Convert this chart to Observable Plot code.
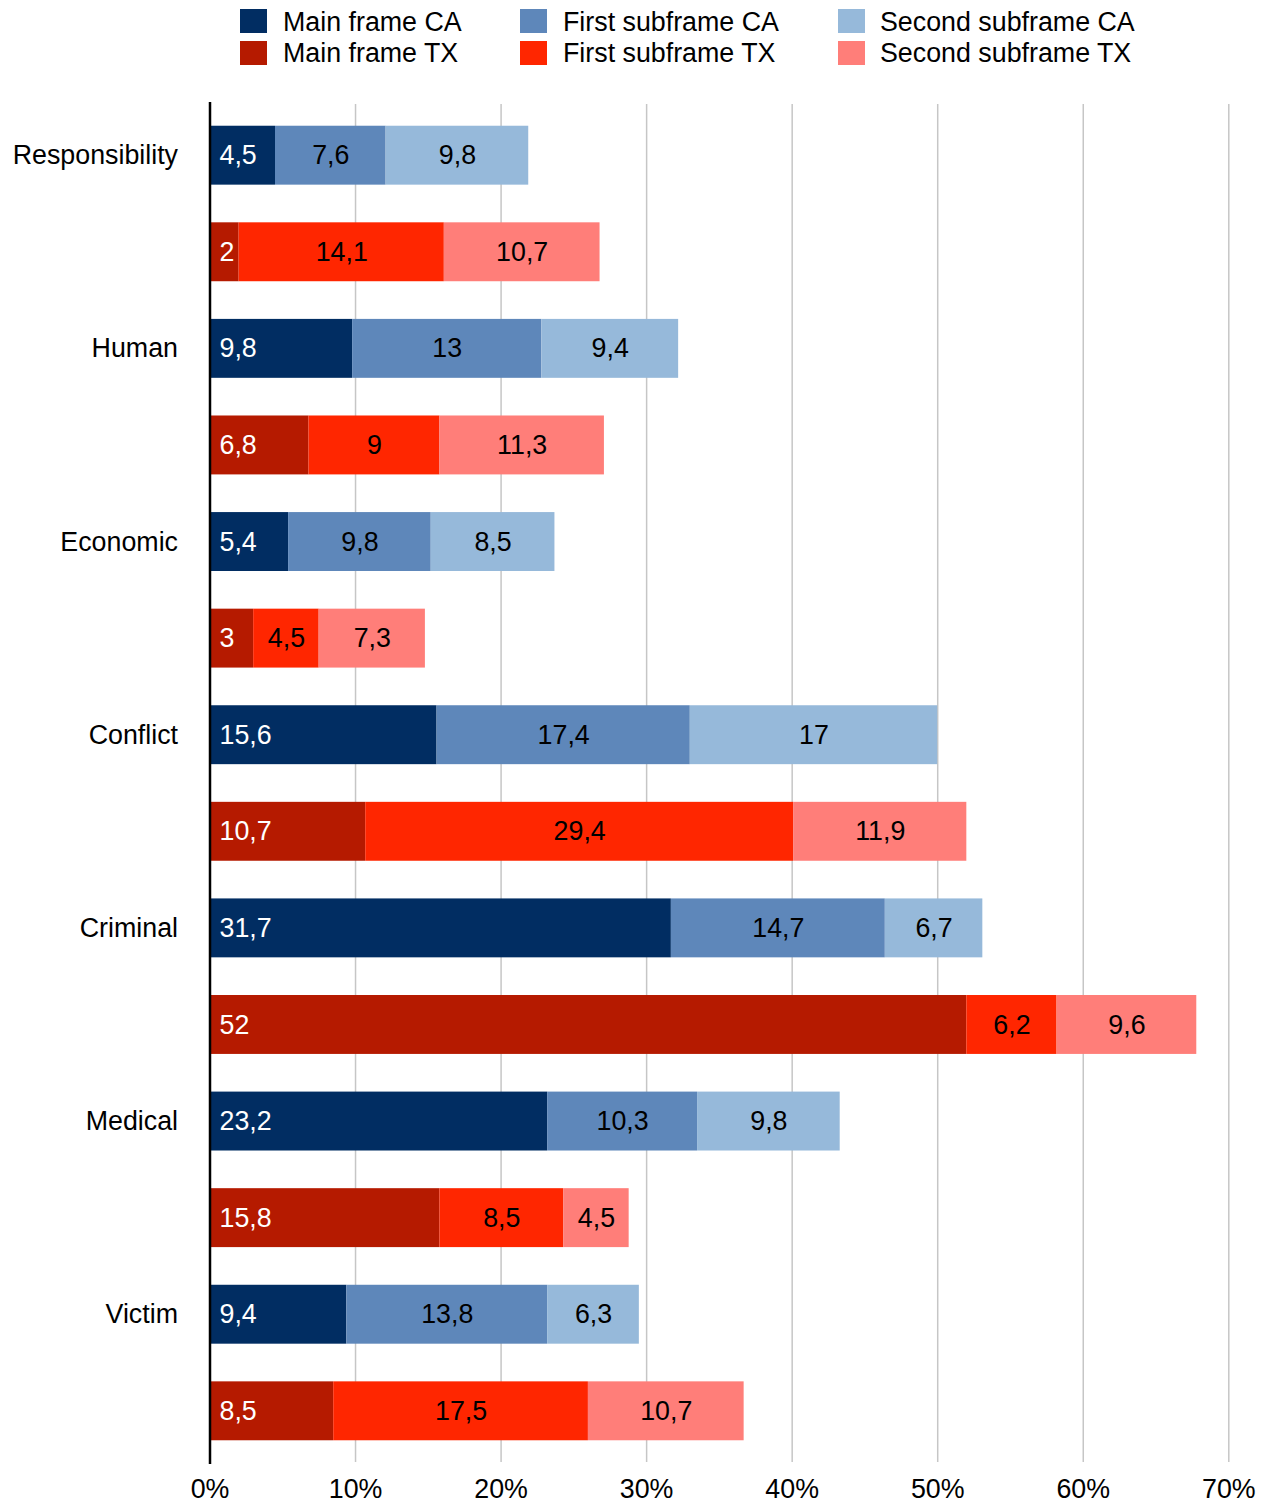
<!DOCTYPE html>
<html><head><meta charset="utf-8">
<script src="https://cdn.jsdelivr.net/npm/d3@7"></script>
<script src="https://cdn.jsdelivr.net/npm/@observablehq/plot@0.6"></script>
<style>
body{margin:0;background:#fff;font-family:"Liberation Sans",Arial,Helvetica,sans-serif;}
#legend{position:relative;width:1267px;height:90px;}
.sw{position:absolute;width:27px;height:24px;}
.lt{position:absolute;font-size:26.8px;line-height:26.8px;color:#000;white-space:nowrap;}
</style></head><body>
<div id="legend"></div>
<div id="chart"></div>
<script>
const categories = ["Responsibility","Human","Economic","Conflict","Criminal","Medical","Victim"];
const mainCA   = [4.5, 9.8, 5.4, 15.6, 31.7, 23.2, 9.4];
const firstCA  = [7.6, 13, 9.8, 17.4, 14.7, 10.3, 13.8];
const secondCA = [9.8, 9.4, 8.5, 17, 6.7, 9.8, 6.3];
const mainTX   = [2, 6.8, 3, 10.7, 52, 15.8, 8.5];
const firstTX  = [14.1, 9, 4.5, 29.4, 6.2, 8.5, 17.5];
const secondTX = [10.7, 11.3, 7.3, 11.9, 9.6, 4.5, 10.7];
const xTicks = [0, 10, 20, 30, 40, 50, 60, 70];
const seriesNames = ["Main frame CA","First subframe CA","Second subframe CA","Main frame TX","First subframe TX","Second subframe TX"];
const seriesColors = ["#012d62","#5e87ba","#96b9da","#b51a00","#ff2600","#ff7e79"];

// legend
const legend = document.getElementById("legend");
const swX = [240, 520, 838], txX = [283, 563, 880], swY = [9, 41], txY = [9.3, 40.3];
seriesNames.forEach((name, i) => {
  const col = i % 3, row = Math.floor(i / 3);
  const s = document.createElement("div");
  s.className = "sw"; s.style.left = swX[col] + "px"; s.style.top = swY[row] + "px";
  s.style.background = seriesColors[i];
  legend.appendChild(s);
  const t = document.createElement("div");
  t.className = "lt"; t.style.left = txX[col] + "px"; t.style.top = txY[row] + "px";
  t.textContent = name;
  legend.appendChild(t);
});

// tidy data
const rows = [], caRows = [], data = [];
categories.forEach((c, i) => {
  const rc = c + "|CA", rt = c + "|TX";
  rows.push(rc, rt); caRows.push(rc);
  data.push({row: rc, series: seriesNames[0], value: mainCA[i], main: true});
  data.push({row: rc, series: seriesNames[1], value: firstCA[i], main: false});
  data.push({row: rc, series: seriesNames[2], value: secondCA[i], main: false});
  data.push({row: rt, series: seriesNames[3], value: mainTX[i], main: true});
  data.push({row: rt, series: seriesNames[4], value: firstTX[i], main: false});
  data.push({row: rt, series: seriesNames[5], value: secondTX[i], main: false});
});
const fmt = v => String(v).replace(".", ",");
const FF = "Liberation Sans, Arial, Helvetica, sans-serif";
const FS = 26.8;

const chart = Plot.plot({
  width: 1267, height: 1415,
  marginTop: 14, marginBottom: 43, marginLeft: 209.5, marginRight: 38.7,
  style: {fontFamily: FF, fontSize: FS + "px", background: "#fff", color: "#000"},
  x: {domain: [0, 70], round: false},
  y: {domain: rows, type: "band", paddingInner: 0.39, paddingOuter: 0.225, round: false},
  color: {domain: seriesNames, range: seriesColors},
  marks: [
    Plot.gridX(xTicks.filter(d => d > 0), {stroke: "#c6c6c6", strokeWidth: 1.5, strokeOpacity: 1}),
    Plot.barX(data, Plot.stackX({x: "value", y: "row", fill: "series"})),
    Plot.text(data, Plot.stackX({x: "value", y: "row", text: d => d.main ? "" : fmt(d.value), fill: "#000", fontSize: FS, fontFamily: FF})),
    Plot.text(data, Plot.stackX1({x: "value", y: "row", text: d => d.main ? fmt(d.value) : "", fill: "#fff", fontSize: FS, fontFamily: FF, textAnchor: "start", dx: 9.5})),
    Plot.ruleX([0], {stroke: "#000", strokeWidth: 2.5, insetTop: -2, insetBottom: -2}),
    Plot.axisX(xTicks, {anchor: "bottom", tickSize: 0, tickPadding: 16, tickFormat: d => d + "%", fontSize: FS, fontFamily: FF, label: null}),
    Plot.axisY(caRows, {anchor: "left", tickSize: 0, tickPadding: 32, tickFormat: r => r.split("|")[0], fontSize: FS, fontFamily: FF, label: null})
  ]
});
document.getElementById("chart").appendChild(chart);
</script>
</body></html>
